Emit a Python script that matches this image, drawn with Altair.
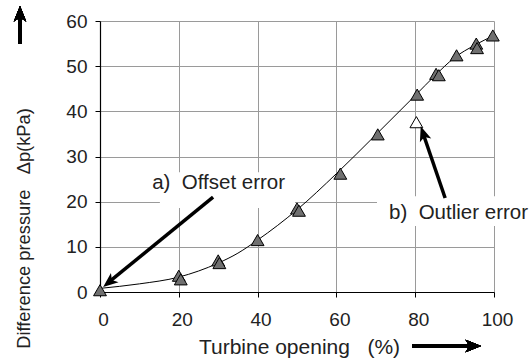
import altair as alt
import pandas as pd

FONT = "Liberation Sans"
NB = "\u00a0"

# measured points
pt_x = [0, 20, 20.5, 30, 30.3, 40, 50, 50.5, 61, 70.5, 80.5, 85.3, 86, 90.5, 95.5, 95.7, 99.7]
pt_y = [0.4, 3.6, 2.8, 7.0, 6.4, 11.5, 18.5, 18.0, 26.2, 34.9, 43.7, 48.3, 48.0, 52.4, 55.0, 54.0, 56.8]

# outlier
out_x = [80.3]
out_y = [37.6]

# fitted curve
curve_x = [0, 10, 20, 30, 35, 40, 50, 60, 70, 80, 85, 90, 95, 100]
curve_y = [0.8, 1.8, 3.3, 6.4, 8.6, 11.5, 18.2, 26.2, 34.8, 43.5, 47.9, 51.9, 54.6, 56.8]

# annotations (data units)
labels = ["a)" + NB + NB + "Offset error", "b)" + NB + NB + "Outlier error"]
label_x = [30.1, 91.0]
label_y = [24.1, 17.5]
box_x = [15.2, 70.3]
box_x2 = [49.5, 112.0]
box_y = [18.6, 14.6]
box_y2 = [26.5, 21.2]
arrow_tail_x = [28.7, 87.6]
arrow_tail_y = [21.0, 20.8]
arrow_neck_x = [2.7, 82.2]
arrow_neck_y = [2.5, 34.6]
arrow_tip_x = [0.8, 81.4]
arrow_tip_y = [1.1, 36.7]
arrow_angle = [230.7, 341.1]

x_ticks = [0, 20, 40, 60, 80, 100]
y_ticks = [0, 10, 20, 30, 40, 50, 60]

x_title = "Turbine opening" + NB + NB + NB + "(%)"
y_title = "Difference pressure" + NB + NB + NB + "Δp(kPa)"

pts = pd.DataFrame({"x": pt_x, "y": pt_y})
outl = pd.DataFrame({"x": out_x, "y": out_y})
curve = pd.DataFrame({"x": curve_x, "y": curve_y})
ann = pd.DataFrame({
    "label": labels, "lx": label_x, "ly": label_y,
    "bx": box_x, "bx2": box_x2, "by": box_y, "by2": box_y2,
    "tx": arrow_tail_x, "ty": arrow_tail_y,
    "nx": arrow_neck_x, "ny": arrow_neck_y,
    "px": arrow_tip_x, "py": arrow_tip_y, "ang": arrow_angle,
})

HEAD = "M0,0 L0.8,2 L0,1.5 L-0.8,2 Z"

xs = alt.Scale(domain=[0, 100], nice=False, zero=False)
ys = alt.Scale(domain=[0, 60], nice=False, zero=False)

xax = alt.Axis(values=x_ticks, title=x_title, grid=True, labelFlush=False, labelOffset=3,
               titleX=199, titleY=61, titleBaseline="alphabetic", titleAnchor="middle",
               titleFontSize=21)
yax = alt.Axis(values=y_ticks, title=y_title, grid=True, labelFlush=False,
               titleX=-71, titleY=207, titleAngle=270, titleBaseline="alphabetic",
               titleAlign="center", titleAnchor="middle", titleFontSize=18.3)

base = alt.Chart(curve)

boxes = alt.Chart(ann).mark_rect(fill="white", clip=False).encode(
    x=alt.X("bx:Q", scale=xs, axis=xax), x2="bx2:Q",
    y=alt.Y("by:Q", scale=ys, axis=yax), y2="by2:Q",
)

line = base.mark_line(color="black", strokeWidth=1, interpolate="monotone").encode(
    x=alt.X("x:Q", scale=xs), y=alt.Y("y:Q", scale=ys)
)

points = alt.Chart(pts).mark_point(shape="triangle-up", filled=True, fill="#707070",
                                   stroke="black", strokeWidth=1, size=165, opacity=1).encode(
    x=alt.X("x:Q", scale=xs), y=alt.Y("y:Q", scale=ys)
)

outlier = alt.Chart(outl).mark_point(shape="triangle-up", filled=True, fill="white",
                                     stroke="black", strokeWidth=1, size=165, opacity=1).encode(
    x=alt.X("x:Q", scale=xs), y=alt.Y("y:Q", scale=ys)
)

shafts = alt.Chart(ann).mark_rule(color="black", strokeWidth=3.5).encode(
    x=alt.X("tx:Q", scale=xs), y=alt.Y("ty:Q", scale=ys), x2="nx:Q", y2="ny:Q"
)

heads = alt.Chart(ann).mark_point(shape=HEAD, filled=True, color="black", size=225, opacity=1).encode(
    x=alt.X("px:Q", scale=xs), y=alt.Y("py:Q", scale=ys), angle=alt.Angle("ang:Q", scale=None)
)

texts = alt.Chart(ann).mark_text(font=FONT, fontSize=20.5, color="#222222", align="center",
                                 baseline="middle").encode(
    x=alt.X("lx:Q", scale=xs), y=alt.Y("ly:Q", scale=ys), text="label:N"
)

# axis-title arrows (decoration outside plot area)
v_shaft = base.mark_rule(color="black", strokeWidth=3.5).encode(
    x=alt.value(-80), y=alt.value(23), y2=alt.value(-6)
)
v_head = base.mark_point(shape=HEAD, filled=True, color="black", size=240, opacity=1).encode(
    x=alt.value(-80), y=alt.value(-15), angle=alt.value(0)
)
h_shaft = base.mark_rule(color="black", strokeWidth=3.5).encode(
    x=alt.value(312), x2=alt.value(372), y=alt.value(325)
)
h_head = base.mark_point(shape=HEAD, filled=True, color="black", size=240, opacity=1).encode(
    x=alt.value(381), y=alt.value(325), angle=alt.value(90)
)

chart = alt.layer(
    boxes, line, points, outlier, shafts, heads, texts, v_shaft, v_head, h_shaft, h_head
).properties(
    width=394, height=271,
    autosize=alt.AutoSizeParams(type="none"),
    padding={"left": 100, "top": 21, "right": 38, "bottom": 68},
).configure_view(stroke=None).configure_axis(
    labelFont=FONT, titleFont=FONT, labelFontSize=19,
    labelColor="#222222", titleColor="#222222", titleFontWeight="normal",
    gridColor="#9a9a9a", gridWidth=1, domainColor="black", domainWidth=1.2,
    tickColor="black", tickSize=5, tickWidth=1,
).configure_axisX(labelPadding=13).configure_axisY(labelPadding=8)

chart.save("out.html", embed_options={"renderer": "svg", "actions": False})
